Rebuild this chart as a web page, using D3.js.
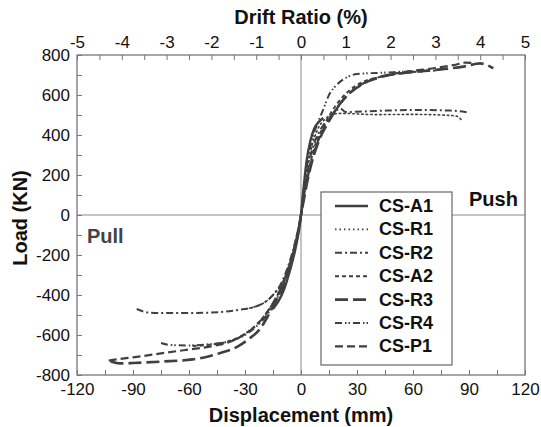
<!DOCTYPE html>
<html>
<head>
<meta charset="utf-8">
<script src="https://cdn.jsdelivr.net/npm/d3@7"></script>
<style>
  body { margin: 0; background: #fff; }
  svg { display: block; font-family: "Liberation Sans", Arial, sans-serif; }
</style>
</head>
<body>
<svg id="chart" width="541" height="427"></svg>
<script>
// ---- data: [displacement mm, load kN], negative branch then positive ----
const names = ["CS-A1", "CS-R1", "CS-R2", "CS-A2", "CS-R3", "CS-R4", "CS-P1"];

const csA1 = [[-15,-470],[-12,-430],[-9,-370],[-6,-280],[-3,-170],[-1,-70],[0,0],
  [1,100],[2,190],[3,270],[5,370],[7,430],[10,470],[12,485]];
const csR1 = [[-30,-470],[-26,-462],[-20,-440],[-15,-400],[-10,-340],[-6,-250],[-3,-150],[-1,-60],[0,0],
  [1,80],[2,150],[4,270],[6,350],[9,430],[13,480],[18,505],[22,508],[40,502],[60,503],[75,500],[83,495],[86,475]];
const csR2 = [[-88,-470],[-82,-487],[-75,-490],[-60,-490],[-43,-485],[-32,-472],[-25,-460],[-20,-440],[-15,-400],
  [-10,-330],[-6,-230],[-3,-130],[-1,-50],[0,0],
  [1,70],[2.5,160],[5,290],[8,380],[12,450],[16,495],[21,533],[24,515],[40,520],[60,525],[80,522],[88,515],[90,510]];
const csA2 = [[-58,-655],[-50,-650],[-40,-635],[-31,-600],[-23,-540],[-17,-470],[-12,-390],[-7,-270],[-3,-140],[-1,-55],[0,0],
  [1,60],[3,170],[5,260],[8,360],[12,440],[16,510],[20,565],[25,615],[32,660],[45,695],[60,715],[72,722]];
const csR3 = [[-102,-733],[-97,-742],[-90,-740],[-75,-733],[-58,-722],[-44,-692],[-34,-658],[-28,-620],[-22,-570],
  [-18,-510],[-14,-440],[-10,-370],[-6,-260],[-3,-150],[-1,-60],[0,0],
  [1,50],[3,150],[6,270],[10,380],[15,470],[20,545],[25,600],[33,655],[45,695],[60,715],[75,728],[87,742],[96,758],[100,748],[103,733]];
const csR4 = [[-75,-640],[-70,-650],[-60,-652],[-48,-645],[-38,-630],[-30,-600],[-22,-540],[-16,-470],[-11,-380],
  [-7,-280],[-3,-150],[-1,-60],[0,0],
  [1,90],[2,170],[4,290],[6,380],[9,460],[12,530],[15,600],[18,640],[21,667],[25,690],[30,705],[45,712],[60,718],[65,715]];
const csP1 = [[-103,-728],[-99,-722],[-90,-712],[-75,-692],[-62,-675],[-49,-658],[-37,-630],[-30,-595],[-25,-560],
  [-20,-510],[-15,-440],[-10,-350],[-6,-250],[-3,-140],[-1,-50],[0,0],
  [1,55],[3,160],[6,280],[10,390],[14,460],[19,530],[24,590],[31,645],[42,690],[58,718],[72,735],[82,750],[88,762],[92,760]];

const series = [csA1, csR1, csR2, csA2, csR3, csR4, csP1];

const dispTicks = d3.range(-120, 121, 15);   // labels every 30
const driftTicks = d3.range(-5, 5.01, 0.5);  // labels every 1
const loadTicks = d3.range(-800, 801, 100);  // labels every 200

// line styles per series
const dashes = ["none", "1.5,3", "7,3,2,3", "4,3", "13,5", "7,3,1.5,2,1.5,3", "8,4"];
const widths = [2.4, 1.6, 2, 2, 2.6, 2, 2.2];
const ink = "#404040";

const svg = d3.select("#chart");
const L = 77, R = 525, T = 55, B = 375;

const x = d3.scaleLinear().domain([-120, 120]).range([L, R]);
const drift = d3.scaleLinear().domain([-5, 5]).range([L, R]);
const y = d3.scaleLinear().domain([-800, 800]).range([B, T]);

// zero lines
svg.append("line").attr("x1", L).attr("x2", R).attr("y1", y(0)).attr("y2", y(0))
  .attr("stroke", "#8a8a8a").attr("stroke-width", 1);
svg.append("line").attr("x1", x(0)).attr("x2", x(0)).attr("y1", T).attr("y2", B)
  .attr("stroke", "#8a8a8a").attr("stroke-width", 1);

// axes (ticks inward)
function styleAxis(g) {
  g.select(".domain").remove();
  g.selectAll(".tick line").attr("stroke", "#777").attr("stroke-width", 1);
  g.selectAll(".tick text").attr("fill", "#111").attr("font-size", 17);
}
svg.append("g").attr("transform", `translate(0,${B})`)
  .call(d3.axisBottom(x).tickValues(dispTicks).tickSize(-5).tickPadding(8)
    .tickFormat(d => d % 30 === 0 ? d : ""))
  .call(styleAxis);
svg.append("g").attr("transform", `translate(0,${T})`)
  .call(d3.axisTop(drift).tickValues(driftTicks).tickSize(-5).tickPadding(7)
    .tickFormat(d => Number.isInteger(d) ? d : ""))
  .call(styleAxis);
svg.append("g").attr("transform", `translate(${L},0)`)
  .call(d3.axisLeft(y).tickValues(loadTicks).tickSize(-5).tickPadding(7)
    .tickFormat(d => d % 200 === 0 ? d : ""))
  .call(styleAxis);

// frame
svg.append("rect").attr("x", L).attr("y", T).attr("width", R - L).attr("height", B - T)
  .attr("fill", "none").attr("stroke", "#777").attr("stroke-width", 1.3);

// curves
const line = d3.line().x(d => x(d[0])).y(d => y(d[1])).curve(d3.curveMonotoneX);
series.forEach((s, i) => {
  svg.append("path").datum(s).attr("d", line)
    .attr("fill", "none").attr("stroke", ink).attr("stroke-width", widths[i])
    .attr("stroke-dasharray", dashes[i]).attr("stroke-linecap", i === 1 ? "round" : "butt");
});

// titles
svg.append("text").attr("x", x(0)).attr("y", 24).attr("text-anchor", "middle")
  .attr("font-size", 20).attr("font-weight", 700).attr("fill", "#111").text("Drift Ratio (%)");
svg.append("text").attr("x", x(0)).attr("y", 422).attr("text-anchor", "middle")
  .attr("font-size", 20).attr("font-weight", 700).attr("fill", "#111").text("Displacement (mm)");
svg.append("text").attr("transform", `translate(27,${y(0) + 3}) rotate(-90)`).attr("text-anchor", "middle")
  .attr("font-size", 20).attr("font-weight", 700).attr("fill", "#111").text("Load (KN)");

svg.append("text").attr("x", 469).attr("y", 206).attr("font-size", 20).attr("font-weight", 700)
  .attr("fill", "#111").text("Push");
svg.append("text").attr("x", 87).attr("y", 243).attr("font-size", 20).attr("font-weight", 700)
  .attr("fill", "#444").text("Pull");

// legend
const lg = svg.append("g");
lg.append("rect").attr("x", 321).attr("y", 192).attr("width", 131).attr("height", 173)
  .attr("fill", "#fff").attr("stroke", "#666").attr("stroke-width", 1.2);
names.forEach((n, i) => {
  const cy = 206 + i * 23.4;
  lg.append("line").attr("x1", 335).attr("x2", 368).attr("y1", cy).attr("y2", cy)
    .attr("stroke", ink).attr("stroke-width", widths[i]).attr("stroke-dasharray", dashes[i]);
  lg.append("text").attr("x", 379).attr("y", cy + 6).attr("font-size", 18).attr("font-weight", 700)
    .attr("fill", "#111").text(n);
});
</script>
</body>
</html>
